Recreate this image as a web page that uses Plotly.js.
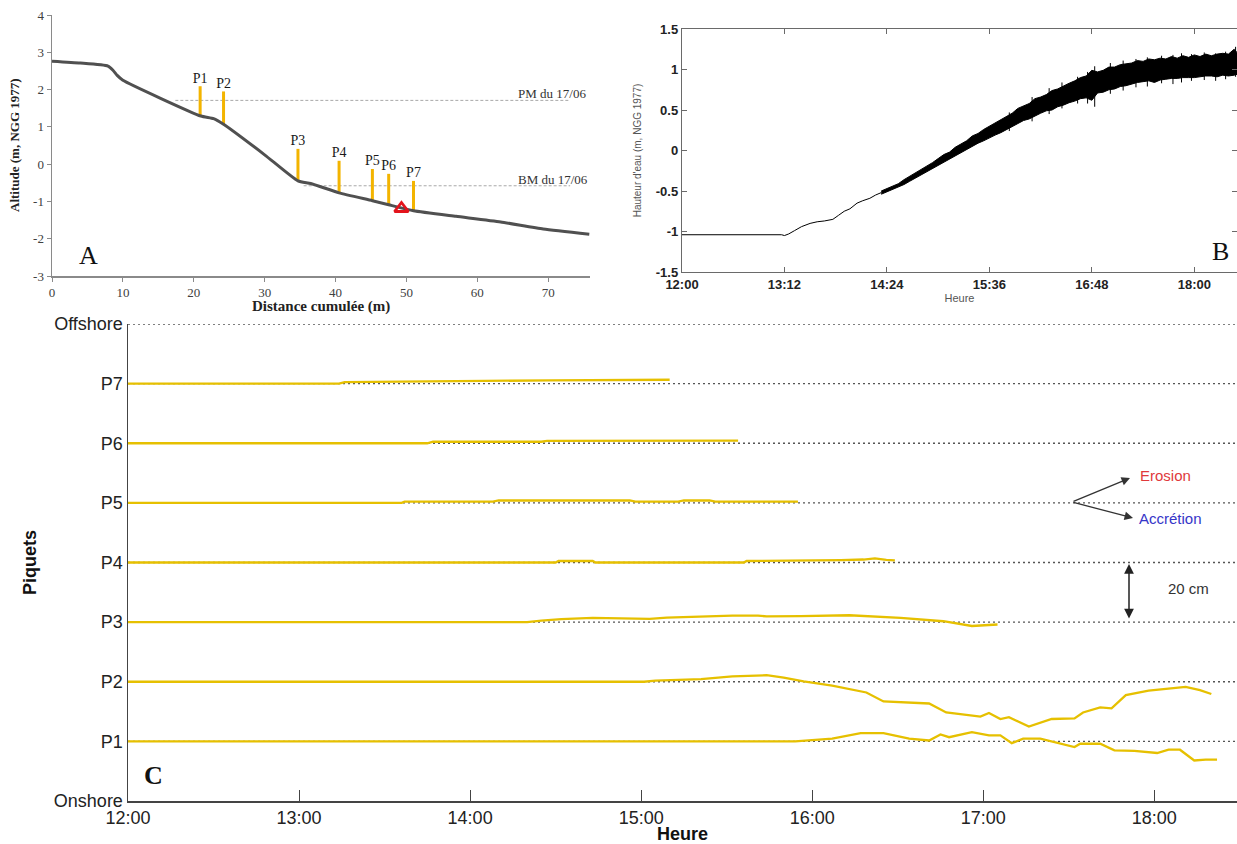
<!DOCTYPE html>
<html><head><meta charset="utf-8">
<script src="https://cdn.plot.ly/plotly-3.0.1.min.js"></script>
<style>html,body{margin:0;padding:0;background:#fff}#chart{width:1237px;height:844px}</style>
</head><body><div id="chart"></div>
<script>
// ---------------- Panel A : beach profile ----------------
const profileDist = [0, 4, 7.9, 8.6, 9.2, 10, 21, 22.8, 24.2, 30, 34.7, 36.5, 40.5, 45.2, 47.5, 51, 57, 63.3, 69.3, 75.8];
const profileAlt  = [2.76, 2.71, 2.63, 2.52, 2.38, 2.25, 1.29, 1.22, 1.07, 0.25, -0.45, -0.52, -0.77, -0.98, -1.09, -1.25, -1.40, -1.55, -1.74, -1.88];
const stakeNames = ['P1', 'P2', 'P3', 'P4', 'P5', 'P6', 'P7'];
const stakeDist  = [20.9, 24.2, 34.7, 40.5, 45.2, 47.5, 51.0];
const stakeBase  = [1.29, 1.07, -0.45, -0.77, -0.98, -1.09, -1.25];
const stakeTop   = [2.09, 1.95, 0.41, 0.09, -0.13, -0.26, -0.45];
const pmDist = [17.4, 73.1], pmAlt = [1.71, 1.71];
const bmDist = [35.5, 73.1], bmAlt = [-0.58, -0.58];
const sensorDist = [49.3], sensorAlt = [-1.19];
const distTicks = [0, 10, 20, 30, 40, 50, 60, 70];
const altTicks = [-3, -2, -1, 0, 1, 2, 3, 4];
const altTickText = ['-3', '-2', '-1', '0', '1', '2', '3', '4'];

// ---------------- Panel B : water level ----------------
const calmTime = ['12:00','13:10','13:12','13:15','13:19','13:24','13:30','13:35','13:40','13:46','13:50','13:54','13:58','14:03','14:07','14:12','14:16','14:20'];
const calmLevel = [-1.04,-1.04,-1.05,-1.03,-0.99,-0.94,-0.90,-0.88,-0.87,-0.85,-0.80,-0.75,-0.72,-0.65,-0.62,-0.59,-0.55,-0.52];
const waveTime = ['14:20','14:24','14:28','14:32','14:36','14:40','14:44','14:48','14:52','14:56','15:00','15:04','15:08','15:12','15:16','15:20','15:24','15:28','15:32','15:36','15:40','15:44','15:48','15:52','15:56','16:00','16:04','16:08','16:12','16:16','16:20','16:24','16:28','16:32','16:36','16:40','16:44','16:48','16:52','16:56','17:00','17:04','17:08','17:12','17:16','17:20','17:24','17:28','17:32','17:36','17:40','17:44','17:48','17:52','17:56','18:00','18:04','18:08','18:12','18:16','18:20','18:24','18:28','18:30'];
const waveUpper = [-0.50,-0.47,-0.43,-0.41,-0.36,-0.32,-0.28,-0.23,-0.20,-0.15,-0.10,-0.05,-0.02,0.04,0.08,0.12,0.18,0.21,0.26,0.30,0.35,0.38,0.43,0.46,0.52,0.55,0.58,0.64,0.66,0.69,0.74,0.76,0.80,0.83,0.86,0.90,0.92,0.99,0.97,0.99,1.03,1.03,1.06,1.07,1.08,1.11,1.10,1.13,1.12,1.14,1.13,1.16,1.14,1.17,1.15,1.18,1.16,1.19,1.17,1.19,1.20,1.19,1.25,1.21];
const waveLower = [-0.54,-0.51,-0.49,-0.45,-0.42,-0.38,-0.34,-0.31,-0.26,-0.23,-0.18,-0.15,-0.10,-0.07,-0.02,0.02,0.05,0.09,0.12,0.16,0.19,0.22,0.26,0.29,0.33,0.37,0.39,0.43,0.46,0.49,0.50,0.54,0.56,0.59,0.61,0.64,0.65,0.62,0.71,0.72,0.75,0.76,0.79,0.80,0.82,0.84,0.85,0.86,0.84,0.87,0.88,0.89,0.89,0.90,0.90,0.90,0.91,0.92,0.92,0.91,0.93,0.92,0.93,0.94];
// isolated wave spikes sticking out of the band
const spikeTime   = ['15:50','16:06','16:18','16:27','16:38','16:45','16:50','17:01','17:10','17:19','17:27','17:37','17:45','17:51','17:58','18:07','18:15','18:22','18:29'];
const spikeTop    = [0.47, 0.66, 0.77, 0.84, 0.91, 0.97, 1.04, 1.08, 1.11, 1.13, 1.15, 1.17, 1.18, 1.20, 1.19, 1.21, 1.20, 1.22, 1.28];
const spikeBottom = [0.24, 0.36, 0.45, 0.52, 0.58, 0.58, 0.54, 0.70, 0.74, 0.78, 0.79, 0.83, 0.82, 0.84, 0.86, 0.87, 0.86, 0.88, 0.91];
const waterTickTime = ['12:00','13:12','14:24','15:36','16:48','18:00'];
const waterTicks = [-1.5, -1, -0.5, 0, 0.5, 1, 1.5];
const waterTickText = ['-1.5', '-1', '-0.5', '0', '0.5', '1', '1.5'];

// ---------------- Panel C : stake records (offsets in cm) ----------------
const levelNames = ['Onshore', 'P1', 'P2', 'P3', 'P4', 'P5', 'P6', 'P7', 'Offshore'];
const hourTicks = ['12:00', '13:00', '14:00', '15:00', '16:00', '17:00', '18:00'];
const cmPerLevel = 20;
const p1Time = ['12:00','15:54','16:07','16:17','16:25','16:34','16:41','16:45','16:48','16:56','17:02','17:06','17:10','17:14','17:20','17:27','17:32','17:34','17:41','17:46','17:53','18:01','18:05','18:09','18:14','18:18','18:22'];
const p1Cm   = [0, 0, 0.9, 2.8, 2.8, 0.9, 0.3, 2.3, 1.4, 3.1, 2.0, 2.0, -0.6, 0.9, 0.9, -0.6, -1.9, -0.8, -0.8, -3.0, -3.2, -3.9, -2.8, -2.8, -6.4, -6.1, -6.1];
const p2Time = ['12:00','15:01','15:05','15:21','15:32','15:44','15:50','15:57','16:07','16:19','16:25','16:41','16:47','16:59','17:02','17:06','17:09','17:16','17:24','17:32','17:35','17:41','17:45','17:50','17:58','18:05','18:11','18:16','18:20'];
const p2Cm   = [0, 0, 0.4, 0.9, 1.8, 2.2, 1.4, 0.1, -1.3, -3.6, -6.6, -7.3, -10.3, -11.7, -10.5, -12.5, -11.9, -15.0, -12.5, -12.3, -10.3, -8.6, -8.9, -4.5, -3.0, -2.2, -1.7, -2.8, -4.1];
const p3Time = ['12:00','14:20','14:25','14:32','14:43','15:03','15:09','15:32','15:41','15:44','15:56','16:13','16:31','16:46','16:56','17:05'];
const p3Cm   = [0, 0, 0.5, 1.0, 1.4, 1.1, 1.5, 2.2, 2.2, 1.9, 2.0, 2.3, 1.4, 0.3, -1.3, -0.8];
const p4Time = ['12:00','14:30','14:31','14:43','14:44','15:36','15:37','16:00','16:10','16:18','16:22','16:26','16:29'];
const p4Cm   = [0, 0, 0.5, 0.5, 0, 0, 0.5, 0.6, 0.8, 1.0, 1.4, 0.9, 0.7];
const p5Time = ['12:00','13:36','13:37','14:08','14:10','14:56','14:58','15:13','15:15','15:24','15:26','15:55'];
const p5Cm   = [0, 0, 0.4, 0.4, 0.8, 0.8, 0.4, 0.4, 0.8, 0.8, 0.4, 0.4];
const p6Time = ['12:00','13:45','13:47','14:25','14:27','15:34'];
const p6Cm   = [0, 0, 0.5, 0.5, 0.8, 0.9];
const p7Time = ['12:00','13:14','13:16','13:40','14:05','14:28','15:10'];
const p7Cm   = [0, 0, 0.5, 0.6, 0.9, 1.1, 1.3];

// ---------------- helpers ----------------
const DAY = '2014-06-17 ';
const toDate = t => DAY + t;
const W = 1237, H = 844;
const px = x => x / W;
const py = y => 1 - y / H;
const serif = 'Liberation Serif, Times New Roman, serif';
const sans = 'Liberation Sans, Arial, sans-serif';
const YELLOW = '#e6c000';

const traces = [];

// Panel A traces
traces.push({x: pmDist, y: pmAlt, xaxis: 'x', yaxis: 'y', mode: 'lines',
  line: {color: '#a8a8a8', width: 1, dash: '3px,2px'}, hoverinfo: 'skip'});
traces.push({x: bmDist, y: bmAlt, xaxis: 'x', yaxis: 'y', mode: 'lines',
  line: {color: '#a8a8a8', width: 1, dash: '3px,2px'}, hoverinfo: 'skip'});
const sx = [], sy = [];
stakeDist.forEach((d, i) => { sx.push(d, d, null); sy.push(stakeBase[i], stakeTop[i], null); });
traces.push({x: sx, y: sy, xaxis: 'x', yaxis: 'y', mode: 'lines',
  line: {color: '#f3b400', width: 3}, hoverinfo: 'skip'});
traces.push({x: profileDist, y: profileAlt, xaxis: 'x', yaxis: 'y', mode: 'lines',
  line: {color: '#505050', width: 3, shape: 'spline', smoothing: 0.5}});
traces.push({x: stakeDist, y: stakeTop, xaxis: 'x', yaxis: 'y', mode: 'text',
  text: stakeNames, textposition: 'top center',
  textfont: {family: serif, size: 14, color: '#1a1a1a'}});
traces.push({x: sensorDist, y: sensorAlt, xaxis: 'x', yaxis: 'y', mode: 'markers',
  marker: {symbol: 'triangle-up-open', size: 12, color: '#e3141c', line: {width: 2.8, color: '#e3141c'}}});

// Panel B traces
traces.push({x: calmTime.map(toDate), y: calmLevel, xaxis: 'x2', yaxis: 'y2', mode: 'lines',
  line: {color: '#000', width: 1}});
traces.push({x: waveTime.map(toDate), y: waveLower, xaxis: 'x2', yaxis: 'y2', mode: 'lines',
  line: {color: '#000', width: 1}});
traces.push({x: waveTime.map(toDate), y: waveUpper, xaxis: 'x2', yaxis: 'y2', mode: 'lines',
  line: {color: '#000', width: 1}, fill: 'tonexty', fillcolor: '#000'});
const kx = [], ky = [];
spikeTime.forEach((t, i) => { kx.push(toDate(t), toDate(t), null); ky.push(spikeBottom[i], spikeTop[i], null); });
traces.push({x: kx, y: ky, xaxis: 'x2', yaxis: 'y2', mode: 'lines', line: {color: '#000', width: 1}, hoverinfo: 'skip'});

// Panel C traces : dotted reference levels under the yellow records
const series = [[p1Time, p1Cm, 1], [p2Time, p2Cm, 2], [p3Time, p3Cm, 3], [p4Time, p4Cm, 4],
                [p5Time, p5Cm, 5], [p6Time, p6Cm, 6], [p7Time, p7Cm, 7]];
for (let lvl = 1; lvl <= 8; lvl++) {
  traces.push({x: [toDate('12:00'), toDate('18:29')], y: [lvl, lvl], xaxis: 'x3', yaxis: 'y3',
    mode: 'lines', line: {color: '#555', width: 1.4, dash: '2px,3px'}, hoverinfo: 'skip'});
}
series.forEach(([t, cm, lvl]) => {
  traces.push({x: t.map(toDate), y: cm.map(v => lvl + v / cmPerLevel), xaxis: 'x3', yaxis: 'y3',
    mode: 'lines', line: {color: YELLOW, width: 2.3}});
});

const axA = {showgrid: false, zeroline: false, showline: true, linecolor: '#8a8a8a', linewidth: 1.5,
  ticks: 'outside', ticklen: 4, tickcolor: '#8a8a8a', tickfont: {family: serif, size: 13, color: '#404040'}};
const axB = {showgrid: false, zeroline: false, showline: true, linecolor: '#6a6a6a', linewidth: 1.2,
  mirror: 'ticks', ticks: 'inside', ticklen: 5, tickcolor: '#6a6a6a',
  tickfont: {family: sans, size: 13, color: '#222', weight: 'bold'}};
const axC = {showgrid: false, zeroline: false, showline: true, linecolor: '#444', linewidth: 1.5,
  tickfont: {family: sans, size: 18, color: '#222'}};

function note(text, x, y, font, extra) {
  return Object.assign({text: text, x: px(x), y: py(y), xref: 'paper', yref: 'paper',
    xanchor: 'center', yanchor: 'middle', showarrow: false, font: font}, extra || {});
}
function arrow(hx, hy, ax, ay, extra) {
  return Object.assign({text: '', x: px(hx), y: py(hy), xref: 'paper', yref: 'paper', showarrow: true,
    ax: ax, ay: ay, arrowhead: 2, arrowsize: 1.3, arrowwidth: 1.3, arrowcolor: '#333'}, extra || {});
}

const layout = {
  width: W, height: H, margin: {l: 0, r: 0, t: 0, b: 0},
  paper_bgcolor: '#fff', plot_bgcolor: 'rgba(0,0,0,0)', showlegend: false,
  xaxis: Object.assign({}, axA, {domain: [px(52), px(590)], range: [0, 75.9], anchor: 'y', tickvals: distTicks}),
  yaxis: Object.assign({}, axA, {domain: [py(276), py(15)], range: [-3, 4], anchor: 'x',
    tickvals: altTicks, ticktext: altTickText}),
  xaxis2: Object.assign({}, axB, {type: 'date', domain: [px(682), 1], anchor: 'y2',
    range: [toDate('12:00'), toDate('18:30')],
    tickvals: waterTickTime.map(toDate), ticktext: waterTickTime,
    title: {text: 'Heure', font: {family: sans, size: 11, color: '#555'}, standoff: 0}}),
  yaxis2: Object.assign({}, axB, {domain: [py(272), py(29)], anchor: 'x2', range: [-1.5, 1.5],
    tickvals: waterTicks, ticktext: waterTickText,
    title: {text: "Hauteur d'eau (m, NGG 1977)", font: {family: sans, size: 10, color: '#555'}, standoff: 12}}),
  xaxis3: Object.assign({}, axC, {type: 'date', domain: [px(128), 1], anchor: 'y3',
    range: [toDate('12:00'), toDate('18:29')],
    tickvals: hourTicks.map(toDate), ticktext: hourTicks,
    ticks: 'inside', ticklen: 11, tickcolor: '#444',
    title: {text: 'Heure', font: {family: sans, size: 18, color: '#111', weight: 'bold'}, standoff: 0}}),
  yaxis3: Object.assign({}, axC, {domain: [py(801), py(324)], anchor: 'x3', range: [0, 8],
    tickvals: levelNames.map((_, i) => i), ticktext: levelNames, ticks: '',
    title: {text: 'Piquets', font: {family: sans, size: 18, color: '#111', weight: 'bold'}, standoff: 12}}),
  annotations: [
    note('A', 88, 255, {family: serif, size: 26, color: '#111'}),
    note('B', 1220, 252, {family: serif, size: 26, color: '#111'}),
    note('C', 153, 775, {family: serif, size: 26, color: '#111', weight: 'bold'}),
    note('Distance cumulée (m)', 321, 306, {family: serif, size: 15, color: '#222', weight: 'bold'}),
    note('Altitude (m, NGG 1977)', 14, 145, {family: serif, size: 13, color: '#222', weight: 'bold'}, {textangle: -90}),
    note('PM du 17/06', 588, 94, {family: serif, size: 13, color: '#333'}, {xanchor: 'right'}),
    note('BM du 17/06', 590, 179, {family: serif, size: 13, color: '#333'}, {xanchor: 'right'}),
    note('Erosion', 1165, 475, {family: sans, size: 15, color: '#e0393c'}),
    note('Accrétion', 1170, 518, {family: sans, size: 15, color: '#3535c8'}),
    note('20 cm', 1188, 588, {family: sans, size: 15, color: '#333'}),
    arrow(1130, 478, -58, 24),
    arrow(1133, 518, -61, -16),
    arrow(1129, 564, 0, 56, {startarrowhead: 2, arrowside: 'end+start', arrowwidth: 1.5, arrowcolor: '#222'})
  ]
};

Plotly.newPlot('chart', traces, layout, {displayModeBar: false, staticPlot: true});
</script>
</body></html>
